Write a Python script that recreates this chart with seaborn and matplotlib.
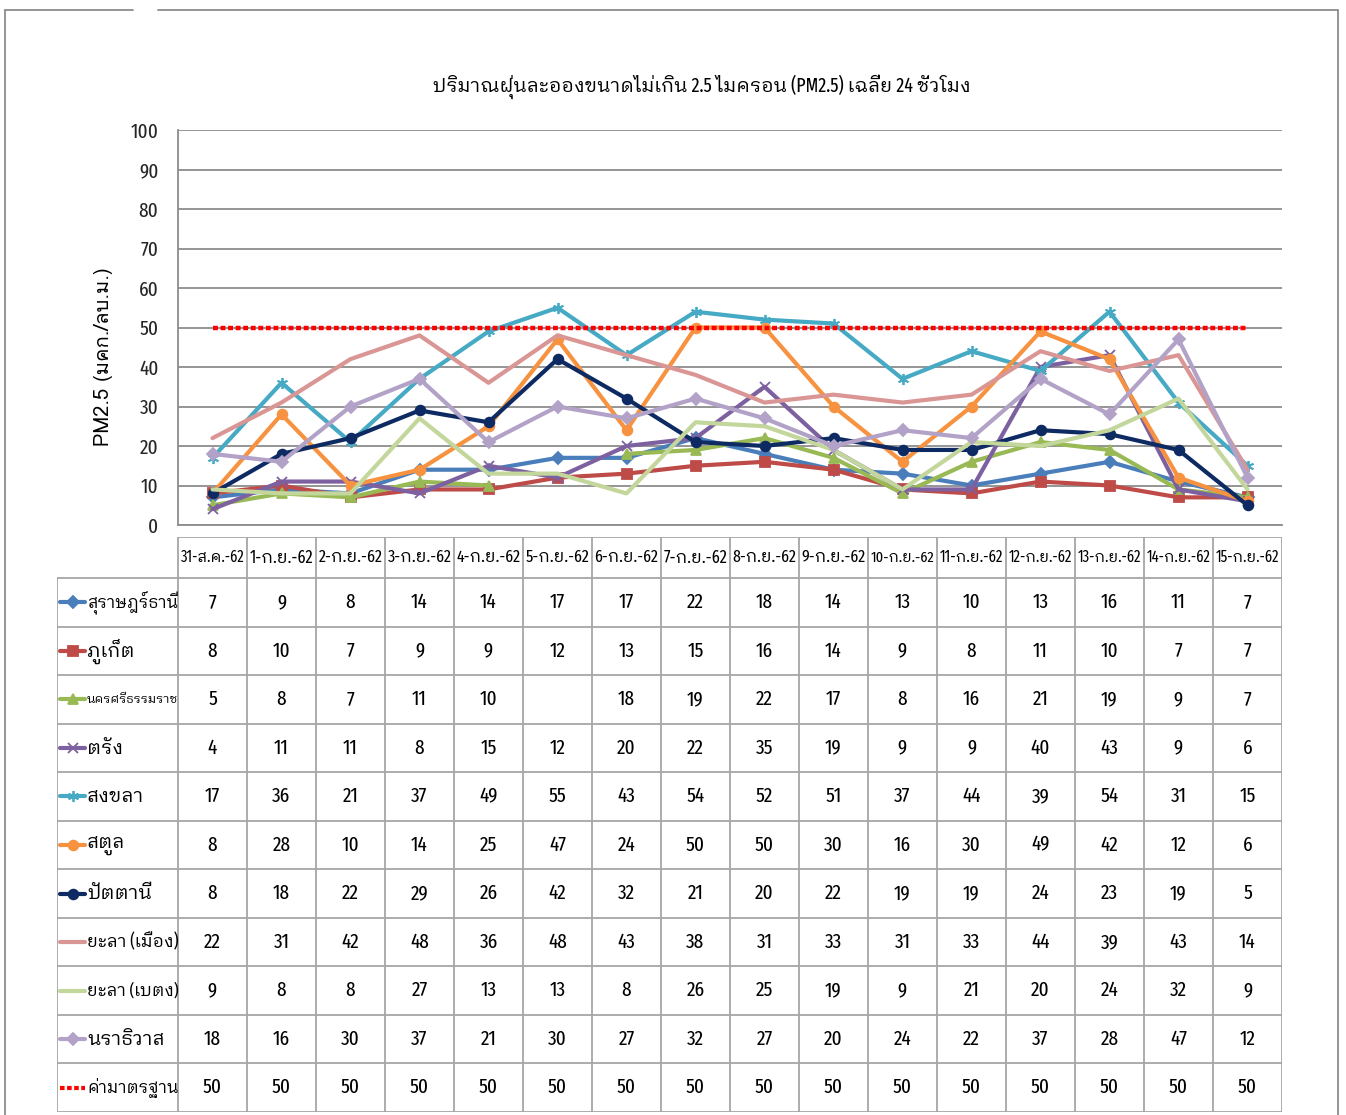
import numpy as np
import pandas as pd
import matplotlib
matplotlib.use("Agg")
import matplotlib.pyplot as plt
import seaborn as sns
from matplotlib.lines import Line2D

dates = ["31-ส.ค.-62", "1-ก.ย.-62", "2-ก.ย.-62", "3-ก.ย.-62", "4-ก.ย.-62", "5-ก.ย.-62",
         "6-ก.ย.-62", "7-ก.ย.-62", "8-ก.ย.-62", "9-ก.ย.-62", "10-ก.ย.-62", "11-ก.ย.-62",
         "12-ก.ย.-62", "13-ก.ย.-62", "14-ก.ย.-62", "15-ก.ย.-62"]
surat = [7, 9, 8, 14, 14, 17, 17, 22, 18, 14, 13, 10, 13, 16, 11, 7]
phuket = [8, 10, 7, 9, 9, 12, 13, 15, 16, 14, 9, 8, 11, 10, 7, 7]
nakhon = [5, 8, 7, 11, 10, np.nan, 18, 19, 22, 17, 8, 16, 21, 19, 9, 7]
trang = [4, 11, 11, 8, 15, 12, 20, 22, 35, 19, 9, 9, 40, 43, 9, 6]
songkhla = [17, 36, 21, 37, 49, 55, 43, 54, 52, 51, 37, 44, 39, 54, 31, 15]
satun = [8, 28, 10, 14, 25, 47, 24, 50, 50, 30, 16, 30, 49, 42, 12, 6]
pattani = [8, 18, 22, 29, 26, 42, 32, 21, 20, 22, 19, 19, 24, 23, 19, 5]
yala_muang = [22, 31, 42, 48, 36, 48, 43, 38, 31, 33, 31, 33, 44, 39, 43, 14]
yala_betong = [9, 8, 8, 27, 13, 13, 8, 26, 25, 19, 9, 21, 20, 24, 32, 9]
narathiwat = [18, 16, 30, 37, 21, 30, 27, 32, 27, 20, 24, 22, 37, 28, 47, 12]
standard = [50] * 16

names = ["สุราษฎร์ธานี", "ภูเก็ต", "นครศรีธรรมราช", "ตรัง", "สงขลา", "สตูล", "ปัตตานี",
         "ยะลา (เมือง)", "ยะลา (เบตง)", "นราธิวาส", "ค่ามาตรฐาน"]
values = [surat, phuket, nakhon, trang, songkhla, satun, pattani, yala_muang, yala_betong,
          narathiwat, standard]
colors = ["#4A7EBB", "#BE4B48", "#98B954", "#7D60A0", "#46AAC5", "#F69240", "#0E2A63",
          "#D99694", "#C3D69B", "#B3A2C7", "#FF0000"]
markers = ["D", "s", "^", "x", (6, 2, 0), "o", "o", None, None, "D", None]
msizes = [6, 6.5, 6.5, 7, 8, 7, 7, 0, 0, 6.5, 0]

title = "ปริมาณฝุ่นละอองขนาดไม่เกิน 2.5 ไมครอน (PM2.5) เฉลี่ย 24 ชั่วโมง"
ylabel = "PM2.5 (มคก./ลบ.ม.)"

sns.set_theme(style="white")
COND = ["Fira Sans Extra Condensed", "IBM Plex Sans Thai Looped", "DejaVu Sans"]
WIDE = ["Loma", "DejaVu Sans"]
plt.rcParams["font.family"] = COND
plt.rcParams["text.color"] = "black"

W, H = 1346, 1115
fig = plt.figure(figsize=(W / 100, H / 100), dpi=100)
fig.patch.set_facecolor("white")


def fx(px):
    return px / W


def fy(py):
    return 1 - py / H


ax = fig.add_axes([fx(178), fy(525), fx(1282) - fx(178), (525 - 130) / H])
x = np.arange(len(dates))
for name, vals, c, m, ms in zip(names, values, colors, markers, msizes):
    arr = np.array(vals, dtype=float)
    ok = ~np.isnan(arr)
    runs, start = [], None
    for i, v in enumerate(ok):
        if v and start is None:
            start = i
        if (not v) and start is not None:
            runs.append((start, i))
            start = None
    if start is not None:
        runs.append((start, len(arr)))
    for s, e in runs:
        df = pd.DataFrame({"x": x[s:e], "y": arr[s:e]})
        if name == "ค่ามาตรฐาน":
            sns.lineplot(data=df, x="x", y="y", ax=ax, color=c, lw=3.2, legend=False,
                         linestyle=(0, (1.1, 0.6)))
        else:
            kw = dict(marker=m, markersize=ms, markeredgecolor=c, markerfacecolor=c,
                      markeredgewidth=1.3) if m is not None else {}
            sns.lineplot(data=df, x="x", y="y", ax=ax, color=c, lw=3, legend=False, **kw)

ax.set_xlim(-0.5, 15.5)
ax.set_ylim(0, 100)
ax.set_yticks(np.arange(0, 101, 10))
ax.set_xticks([])
ax.set_xlabel("")
ax.set_ylabel("")
ax.tick_params(axis="y", labelsize=15, pad=14, length=0)
ax.yaxis.grid(True, color="#8C8C8C", lw=1.3)
ax.set_axisbelow(True)
for s in ["top", "right"]:
    ax.spines[s].set_visible(False)
for s in ["left", "bottom"]:
    ax.spines[s].set_color("#8C8C8C")
    ax.spines[s].set_linewidth(1.3)

t_title = fig.text(fx(702), fy(87), title, ha="center", va="center", fontsize=16)
fig.text(fx(103), fy(357), ylabel, ha="center", va="center", rotation=90, fontsize=14.5,
         family=WIDE)

# table
tax = fig.add_axes([fx(57), fy(1112), fx(1282) - fx(57), (1112 - 537) / H])
xl = -0.5 - 121 / 69
tax.set_xlim(xl, 15.5)
tax.set_ylim(575, 0)
tax.axis("off")
gc = "#A6A6A6"
hh = 41
rh = (575 - hh) / len(names)
tax.plot([-0.5, 15.5], [0, 0], color=gc, lw=1.3)
for k in range(len(names) + 1):
    tax.plot([xl, 15.5], [hh + k * rh] * 2, color=gc, lw=1.3)
for i in range(len(dates) + 1):
    tax.plot([-0.5 + i, -0.5 + i], [0, 575], color=gc, lw=1.3)
tax.plot([xl, xl], [hh, 575], color=gc, lw=1.3)

fit_list = []
for i, d in enumerate(dates):
    t = tax.text(i, hh / 2, d, ha="center", va="center", fontsize=15)
    fit_list.append((t, 64))
for k, (name, vals, c, m, ms) in enumerate(zip(names, values, colors, markers, msizes)):
    yc = hh + (k + 0.5) * rh
    for i, v in enumerate(vals):
        if not np.isnan(v):
            tax.text(i, yc, f"{int(v)}", ha="center", va="center", fontsize=15)
    x0, x1 = xl + 3 / 69, xl + 28 / 69
    if name == "ค่ามาตรฐาน":
        tax.add_line(Line2D([x0, x1], [yc, yc], color=c, lw=3, linestyle=(0, (1.1, 0.6))))
    else:
        tax.add_line(Line2D([x0, x1], [yc, yc], color=c, lw=3))
        if m is not None:
            tax.add_line(Line2D([(x0 + x1) / 2], [yc], color=c, marker=m, markersize=ms,
                                markeredgecolor=c, markerfacecolor=c, markeredgewidth=1.3))
    t = tax.text(xl + 30 / 69, yc, name, ha="left", va="center", fontsize=14)
    fit_list.append((t, 92))

fig.canvas.draw()
rend = fig.canvas.get_renderer()
for t, maxw in fit_list:
    w = t.get_window_extent(rend).width
    if w > maxw:
        t.set_fontsize(t.get_fontsize() * maxw / w)
w = t_title.get_window_extent(rend).width
if w > 540:
    t_title.set_fontsize(t_title.get_fontsize() * 540 / w)

# outer frame
fr = "#8C8C8C"
fig.add_artist(Line2D([fx(5), fx(5)], [fy(10), 0], color=fr, lw=1.3))
fig.add_artist(Line2D([fx(1338), fx(1338)], [fy(10), 0], color=fr, lw=1.3))
fig.add_artist(Line2D([fx(5), fx(133)], [fy(10), fy(10)], color=fr, lw=1.3))
fig.add_artist(Line2D([fx(158), fx(1338)], [fy(10), fy(10)], color=fr, lw=1.3))

fig.savefig("out.png", dpi=100)
